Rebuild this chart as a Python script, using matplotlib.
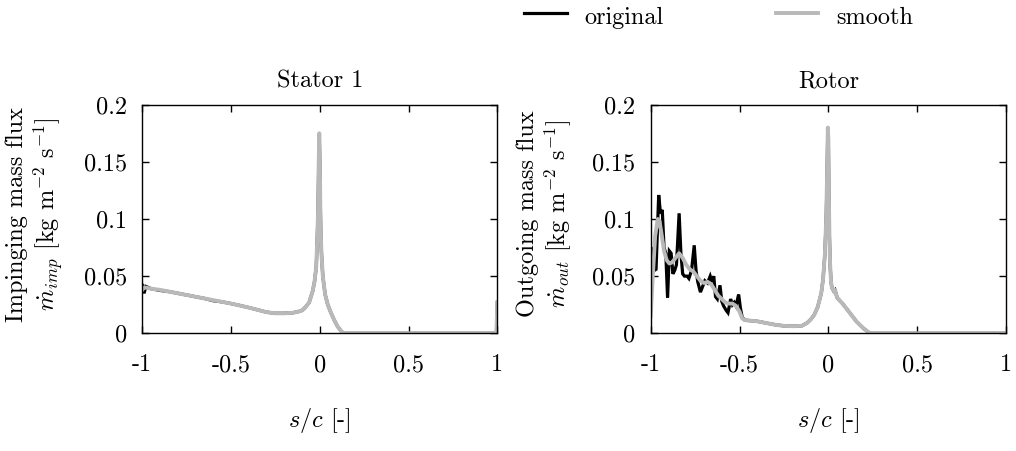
import matplotlib
matplotlib.use("Agg")
import matplotlib.pyplot as plt

plt.rcParams['font.family'] = ['cmr10', 'DejaVu Serif']
plt.rcParams['mathtext.fontset'] = 'cm'
plt.rcParams['axes.unicode_minus'] = False
plt.rcParams['axes.formatter.use_mathtext'] = True

# ---------------- data ----------------
stator_x = [-1.0, -0.99, -0.98, -0.95, -0.9, -0.85, -0.8, -0.75, -0.7, -0.65, -0.6,
            -0.55, -0.5, -0.45, -0.4, -0.35, -0.3, -0.25, -0.2, -0.15, -0.12, -0.1,
            -0.08, -0.06, -0.04, -0.03, -0.02, -0.015, -0.01, -0.006, -0.003, 0.0,
            0.003, 0.006, 0.01, 0.017, 0.03, 0.045, 0.06, 0.08, 0.1, 0.12, 0.135,
            0.2, 0.4, 0.6, 0.8, 0.995, 1.0]
stator_original = [0.042, 0.035, 0.041, 0.039, 0.0375, 0.0365, 0.035, 0.0335, 0.032,
                   0.0305, 0.0285, 0.0275, 0.026, 0.0243, 0.0225, 0.0205, 0.0185,
                   0.0175, 0.0175, 0.018, 0.019, 0.020, 0.023, 0.027, 0.037, 0.045,
                   0.058, 0.08, 0.105, 0.15, 0.175, 0.15, 0.11, 0.085, 0.068, 0.05,
                   0.034, 0.025, 0.019, 0.012, 0.006, 0.002, 0.0, 0.0, 0.0, 0.0, 0.0,
                   0.0, 0.027]
stator_smooth = [0.038, 0.040, 0.040, 0.039, 0.038, 0.0365, 0.035, 0.0335, 0.032,
                 0.0305, 0.029, 0.0275, 0.026, 0.0243, 0.0225, 0.0205, 0.0185,
                 0.0175, 0.0175, 0.018, 0.019, 0.020, 0.023, 0.027, 0.037, 0.045,
                 0.058, 0.08, 0.105, 0.15, 0.175, 0.15, 0.11, 0.085, 0.068, 0.05,
                 0.034, 0.025, 0.019, 0.012, 0.006, 0.002, 0.0, 0.0, 0.0, 0.0, 0.0,
                 0.0, 0.027]

rotor_orig_x = [-1.0, -0.99, -0.98, -0.97, -0.955, -0.945, -0.935, -0.925, -0.915,
                -0.905, -0.895, -0.885, -0.875, -0.865, -0.855, -0.84, -0.83, -0.82,
                -0.81, -0.795, -0.785, -0.77, -0.755, -0.745, -0.735, -0.72, -0.71,
                -0.695, -0.68, -0.665, -0.655, -0.645, -0.635, -0.625, -0.61, -0.6,
                -0.59, -0.575, -0.565, -0.55, -0.54, -0.53, -0.52, -0.505, -0.495,
                -0.485, -0.47, -0.4, -0.35, -0.3, -0.25, -0.2, -0.15, -0.12, -0.1,
                -0.08, -0.06, -0.04, -0.03, -0.02, -0.012, -0.007, -0.003, 0.0,
                0.003, 0.006, 0.01, 0.015, 0.02, 0.03, 0.037, 0.05, 0.08, 0.1, 0.13,
                0.16, 0.2, 0.235, 0.5, 1.0]
rotor_original = [0.02, 0.075, 0.055, 0.056, 0.121, 0.105, 0.108, 0.075, 0.07, 0.031,
                  0.072, 0.07, 0.052, 0.055, 0.06, 0.105, 0.07, 0.052, 0.05, 0.05,
                  0.048, 0.055, 0.077, 0.055, 0.045, 0.036, 0.04, 0.046, 0.044, 0.05,
                  0.045, 0.05, 0.032, 0.03, 0.042, 0.028, 0.024, 0.02, 0.018, 0.03,
                  0.025, 0.027, 0.024, 0.034, 0.022, 0.014, 0.0115, 0.0105, 0.009,
                  0.0075, 0.0065, 0.0062, 0.0065, 0.009, 0.012, 0.016, 0.023, 0.035,
                  0.047, 0.068, 0.1, 0.14, 0.18, 0.17, 0.12, 0.085, 0.06, 0.045,
                  0.04, 0.037, 0.038, 0.031, 0.026, 0.022, 0.016, 0.01, 0.004, 0.0,
                  0.0, 0.0]

rotor_smooth_x = [-1.0, -0.99, -0.975, -0.96, -0.95, -0.94, -0.925, -0.91, -0.895,
                  -0.88, -0.86, -0.84, -0.82, -0.8, -0.78, -0.76, -0.74, -0.72, -0.7,
                  -0.68, -0.66, -0.64, -0.62, -0.6, -0.58, -0.56, -0.54, -0.52, -0.5,
                  -0.485, -0.47, -0.4, -0.35, -0.3, -0.25, -0.2, -0.15, -0.12, -0.1,
                  -0.08, -0.06, -0.04, -0.03, -0.02, -0.012, -0.007, -0.003, 0.0,
                  0.003, 0.006, 0.01, 0.015, 0.02, 0.03, 0.037, 0.05, 0.08, 0.1, 0.13,
                  0.16, 0.2, 0.235, 0.5, 1.0]
rotor_smooth = [0.015, 0.045, 0.085, 0.1, 0.098, 0.088, 0.072, 0.064, 0.061, 0.062,
                0.066, 0.07, 0.066, 0.06, 0.056, 0.054, 0.05, 0.046, 0.044, 0.045,
                0.043, 0.038, 0.033, 0.03, 0.027, 0.026, 0.026, 0.024, 0.019, 0.013,
                0.0115, 0.0105, 0.009, 0.0075, 0.0065, 0.0062, 0.0065, 0.009, 0.012,
                0.016, 0.023, 0.035, 0.047, 0.068, 0.1, 0.14, 0.18, 0.17, 0.12,
                0.085, 0.06, 0.045, 0.04, 0.037, 0.038, 0.031, 0.026, 0.022, 0.016,
                0.01, 0.004, 0.0, 0.0, 0.0]

x_ticks = [-1, -0.5, 0, 0.5, 1]
x_ticklabels = ['-1', '-0.5', '0', '0.5', '1']
y_ticks = [0, 0.05, 0.1, 0.15, 0.2]
y_ticklabels = ['0', '0.05', '0.1', '0.15', '0.2']

titles = ['Stator 1', 'Rotor']
ylabels = ['Impinging mass flux\n$\\dot{m}_{imp}$ [kg m$^{-2}$ s$^{-1}$]',
           'Outgoing mass flux\n$\\dot{m}_{out}$ [kg m$^{-2}$ s$^{-1}$]']
xlabel = '$s/c$ [-]'

# ---------------- figure ----------------
W, H = 1016, 451
fig = plt.figure(figsize=(W / 100, H / 100), dpi=100)
FS = 17.5
BLACK = '#000000'
GRAY = '#b9b9b9'

ax_l = fig.add_axes([142.3 / W, 1 - 333.3 / H, 355 / W, 228.6 / H])
ax_r = fig.add_axes([650.7 / W, 1 - 333.3 / H, 355.3 / W, 228.6 / H])

l1, = ax_l.plot(stator_x, stator_original, color=BLACK, lw=2.3, solid_joinstyle='miter')
l2, = ax_l.plot(stator_x, stator_smooth, color=GRAY, lw=2.8)
ax_r.plot(rotor_orig_x, rotor_original, color=BLACK, lw=2.3, solid_joinstyle='miter')
ax_r.plot(rotor_smooth_x, rotor_smooth, color=GRAY, lw=2.8)

for ax in (ax_l, ax_r):
    ax.set_xlim(-1, 1)
    ax.set_ylim(0, 0.2)
    ax.set_xticks(x_ticks)
    ax.set_xticklabels(x_ticklabels)
    ax.set_yticks(y_ticks)
    ax.set_yticklabels(y_ticklabels)
    ax.tick_params(direction='in', length=5, width=1.0, top=True, right=True,
                   labelsize=FS, colors=BLACK)
    ax.tick_params(axis='x', pad=15)
    ax.tick_params(axis='y', pad=11)
    for s in ax.spines.values():
        s.set_linewidth(1.0)

centers = [(142.3 + 497.3) / 2, (650.7 + 1006) / 2]
ylab_x = [36, 545]
for cx, t in zip(centers, titles):
    fig.text(cx / W, 1 - 87 / H, t, ha='center', va='baseline', fontsize=FS)
    fig.text(cx / W, 1 - 427 / H, xlabel, ha='center', va='baseline', fontsize=FS)
for lx, lab in zip(ylab_x, ylabels):
    fig.text(lx / W, 1 - 214 / H, lab, ha='center', va='center', rotation=90,
             multialignment='center', fontsize=FS, linespacing=1.15)

fig.legend([l1, l2], ['original', 'smooth'], loc='upper left',
           bbox_to_anchor=(524 / W, 1.0 - 3 / H), ncol=2, frameon=False,
           borderpad=0, borderaxespad=0, handleheight=1.2,
           fontsize=FS, handlelength=1.75, handletextpad=0.75, columnspacing=4.6)

fig.savefig('out.png', dpi=100)
